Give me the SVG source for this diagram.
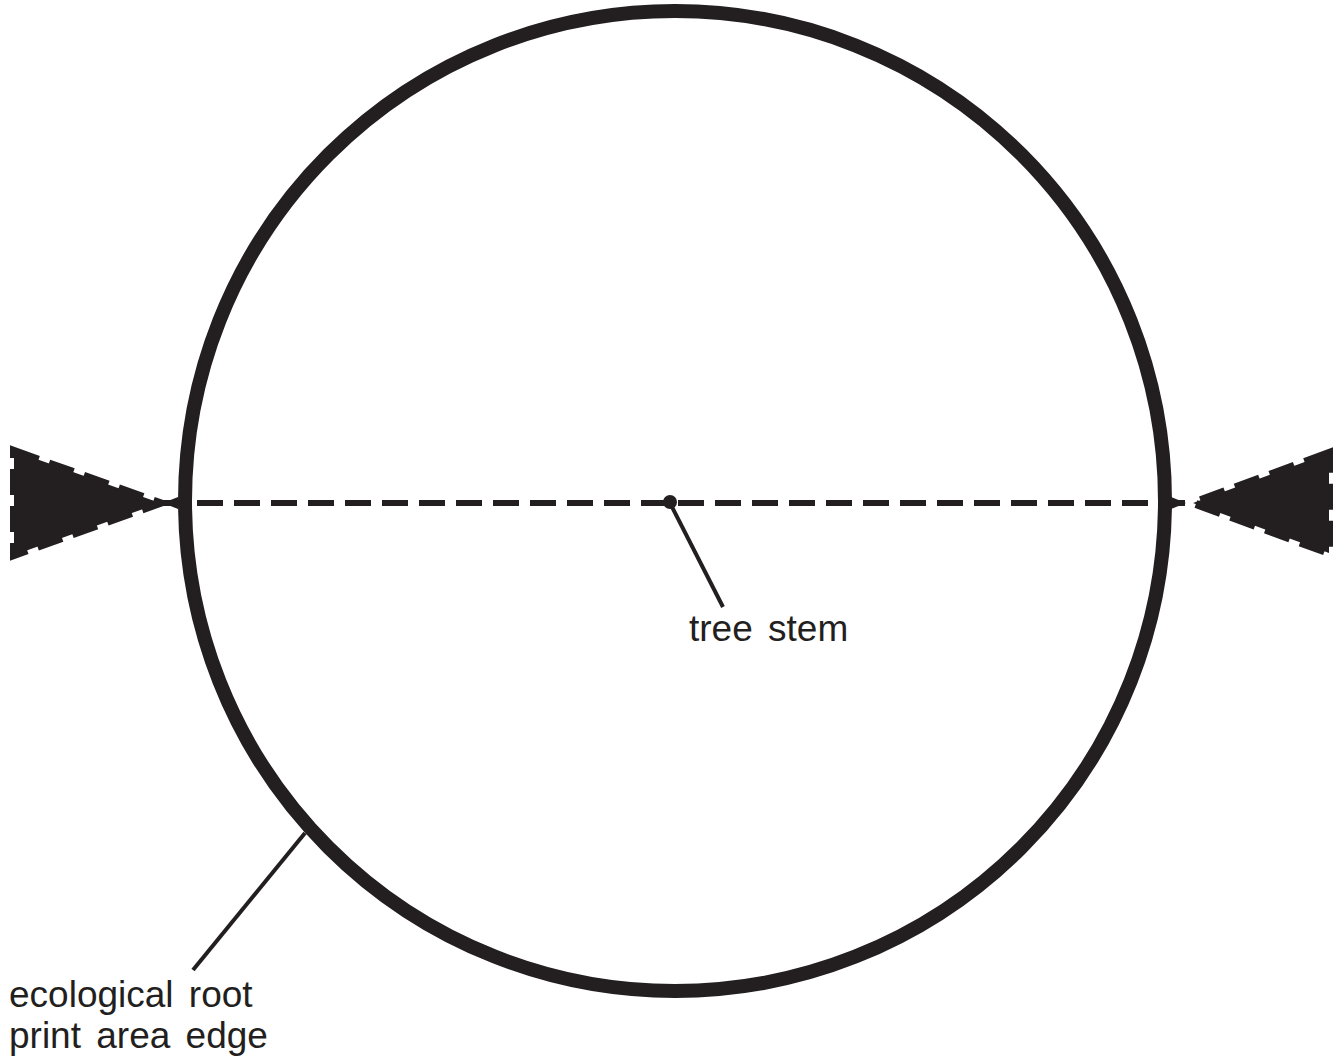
<svg xmlns="http://www.w3.org/2000/svg" width="1341" height="1059" viewBox="0 0 1341 1059">
<style>
.ink{fill:none;stroke:#231f20}
.lbl{font-family:"Liberation Sans",Arial,sans-serif;font-size:37px;fill:#231f20;word-spacing:5px}
.head{fill:#231f20;stroke:#231f20;stroke-width:8;stroke-dasharray:26 11}
</style>
<rect width="1341" height="1059" fill="#fff"/>
<g id="root-print-area">
<circle class="ink" cx="675" cy="501" r="490" stroke-width="14"/>
</g>
<g id="connectors">
<line class="ink" x1="160" y1="503" x2="1190" y2="503" stroke-width="6" stroke-dasharray="26 11"/>
<polygon class="head" points="14,451 160,503 14,555"/>
<polygon points="163,503 178,497 178,509" fill="#231f20"/>
<polygon class="head" points="1329,453 1193,503 1329,553"/>
<polygon points="1186,503 1171,497 1171,509" fill="#231f20"/>
<line class="ink" x1="670" y1="503" x2="723" y2="607" stroke-width="4"/>
<line class="ink" x1="305" y1="833" x2="193" y2="970" stroke-width="4"/>
</g>
<g id="tree-stem">
<circle cx="670" cy="502" r="7" fill="#231f20"/>
<text class="lbl" x="689" y="641">tree stem</text>
</g>
<g id="ecological-label">
<text class="lbl" x="9" y="1007">ecological root</text>
<text class="lbl" x="9" y="1048">print area edge</text>
</g>
</svg>
